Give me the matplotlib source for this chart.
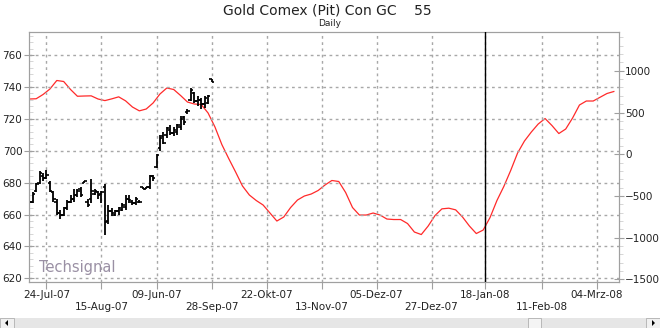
import numpy as np
import matplotlib
matplotlib.use('Agg')
import matplotlib.pyplot as plt
from matplotlib.ticker import MultipleLocator
from matplotlib.patches import Rectangle, Polygon

# price bars (bar index 0 = 24-Jul-07)
bar_idx = np.arange(-5, 49)
bar_high = [669, 674, 680, 687, 686, 688, 681, 675, 670, 663, 665, 669, 672, 676, 676, 677,
            681, 670, 682, 676, 675, 675, 679, 666, 664, 663, 665, 667, 672, 672, 669, 671,
            669, 677, 677, 685, 685, 698, 710, 712, 715, 716, 715, 717, 722, 722, 726, 739,
            737, 734, 733, 734, 735, 745]
bar_low = [664, 667, 674, 679, 681, 682, 674, 668, 660, 657, 659, 663, 667, 668, 671, 671,
           680, 665, 667, 672, 670, 667, 647, 654, 659, 659, 660, 662, 663, 667, 666, 666,
           667, 676, 676, 676, 681, 689, 700, 704, 708, 710, 709, 710, 713, 716, 723, 731,
           730, 728, 726, 727, 729, 743]
bar_open = [665, 668, 675, 680, 684, 683, 680, 674, 668, 661, 660, 664, 668, 670, 672, 676,
            680, 668, 670, 673, 674, 673, 677, 656, 662, 660, 662, 663, 665, 670, 668, 667,
            668, 677, 676, 677, 684, 690, 702, 709, 710, 713, 711, 712, 715, 721, 724, 732,
            736, 731, 732, 729, 730, 745]
bar_close = [668, 673, 679, 686, 683, 685, 675, 670, 661, 660, 664, 668, 670, 672, 675, 672,
             681, 666, 675, 675, 672, 674, 655, 662, 661, 662, 664, 666, 670, 669, 667, 670,
             668, 676, 677, 684, 683, 697, 708, 705, 714, 711, 713, 716, 720, 718, 725, 738,
             731, 732, 729, 733, 734, 743]

# oscillator, read every 2 bars from -5 to 165
osc_idx = np.arange(-5, 166, 2)
osc_val = [662, 665, 716, 782, 884, 872, 776, 695, 698, 700, 662, 643, 664, 688, 640, 566,
           520, 542, 614, 722, 794, 776, 704, 626, 602, 596, 494, 326, 116, -52, -213, -381,
           -489, -555, -609, -705, -801, -753, -639, -549, -501, -477, -435, -369, -315, -327,
           -459, -639, -729, -729, -705, -729, -777, -783, -783, -831, -933, -963, -861, -735,
           -655, -647, -667, -753, -861, -951, -909, -759, -555, -387, -195, 14, 158, 266,
           362, 428, 344, 248, 302, 434, 590, 638, 638, 683, 728, 752]

tick_pos = [0, 16, 32, 48, 64, 80, 96, 112, 127.5, 144, 160]
tick_labels = ['24-Jul-07', '15-Aug-07', '09-Jun-07', '28-Sep-07', '22-Okt-07', '13-Nov-07',
               '05-Dez-07', '27-Dez-07', '18-Jan-08', '11-Feb-08', '04-Mrz-08']
today_idx = 127.5

GRID = '#a8a8a8'
FRAME = '#a0a0a0'
TXT = '#222222'

fig = plt.figure(figsize=(6.6, 3.28), dpi=100)
ax = fig.add_axes([28.6 / 660, 1 - 282 / 328, (619 - 28.6) / 660, (282 - 31.7) / 328])
ax2 = ax.twinx()
ax.set_zorder(ax2.get_zorder() + 1)
ax.patch.set_visible(False)

# oscillator on right axis
ax2.plot(osc_idx, osc_val, color='#ff2a2a', lw=0.9, solid_joinstyle='round')
ax2.set_ylim(-1532, 1469)
ax2.yaxis.set_major_locator(MultipleLocator(500))
ax2.yaxis.set_minor_locator(MultipleLocator(100))

# OHLC bars
ax.vlines(bar_idx, bar_low, bar_high, color='black', lw=1.3)
ax.hlines(bar_open, bar_idx - 0.7, bar_idx, color='black', lw=1.2)
ax.hlines(bar_close, bar_idx, bar_idx + 0.7, color='black', lw=1.2)

ax.axvline(today_idx, color='black', lw=1.0, zorder=3)

ax.set_xlim(-5.2, 166.5)
ax.set_ylim(617.7, 774.6)
ax.yaxis.set_major_locator(MultipleLocator(20))
ax.yaxis.set_minor_locator(MultipleLocator(4))
ax.set_xticks(tick_pos)
ax.set_xticklabels([l if k % 2 == 0 else '\n' + l for k, l in enumerate(tick_labels)])

ax.grid(True, which='major', color=GRID, lw=1.0, linestyle=(0, (2, 2.5)))
ax.set_axisbelow(True)

for a in (ax, ax2):
    for s in a.spines.values():
        s.set_color(FRAME)
ax.tick_params(axis='y', which='major', direction='inout', length=7, color=FRAME,
               labelsize=7.5, labelcolor=TXT, pad=1)
ax.tick_params(axis='y', which='minor', direction='in', length=3, color='#d0d0d0')
ax.tick_params(axis='x', which='major', direction='out', length=5, color=FRAME,
               labelsize=7.5, labelcolor=TXT, pad=1)
ax2.tick_params(axis='y', which='major', direction='inout', length=7, color=FRAME,
                labelsize=7.5, labelcolor=TXT, pad=1)
ax2.tick_params(axis='y', which='minor', direction='out', length=3, color='#d0d0d0')

ax.text(0.018, 0.056, 'Techsignal', transform=ax.transAxes, fontsize=10.5,
        color='#9a90a4', va='center', ha='left')

fig.text(0.496, 0.969, 'Gold Comex (Pit) Con GC    55', ha='center', va='center',
         fontsize=10, color=TXT)
fig.text(0.5, 0.927, 'Daily', ha='center', va='center', fontsize=6.5, color=TXT)

# scrollbar strip at the bottom
H = 328.0
fig.patches.append(Rectangle((0, 0), 1, 10 / H, transform=fig.transFigure,
                             facecolor='#e6e6e6', edgecolor='none'))
for x0 in (0, 646):
    fig.patches.append(Rectangle((x0 / 660, 0), 14 / 660, 10 / H, transform=fig.transFigure,
                                 facecolor='#f0f0f0', edgecolor='#b0b0b0', lw=0.6))
fig.patches.append(Rectangle((528 / 660, 0), 13 / 660, 10 / H, transform=fig.transFigure,
                             facecolor='#f4f4f4', edgecolor='#b0b0b0', lw=0.6))
fig.patches.append(Polygon([(8 / 660, 2 / H), (8 / 660, 8 / H), (5 / 660, 5 / H)],
                           transform=fig.transFigure, facecolor='black'))
fig.patches.append(Polygon([(652 / 660, 2 / H), (652 / 660, 8 / H), (655 / 660, 5 / H)],
                           transform=fig.transFigure, facecolor='black'))

fig.savefig('out.png', dpi=100)
